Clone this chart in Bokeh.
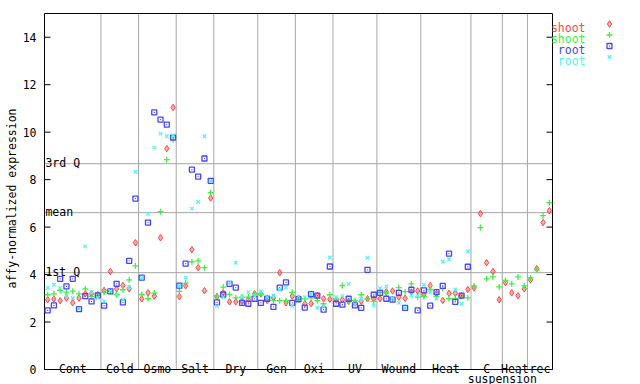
import numpy as np
from bokeh.plotting import figure
from bokeh.models import Range1d, FixedTicker
from bokeh.core.properties import value
from bokeh.embed import file_html
from bokeh.resources import INLINE

# ---------------- data ----------------
group_names = ["Cont", "Cold", "Osmo", "Salt", "Dry", "Gen", "Oxi", "UV",
               "Wound", "Heat", "C", "Heat", "rec"]
group_sizes = [9, 6, 6, 6, 7, 6, 6, 7, 7, 8, 5, 4, 4]
sub_label = "suspension"      # second line of the "C suspension" group label
sub_label_group = 10

nan = float("nan")

shoot_red = [2.94, 2.97, 2.90, 3.01, 2.81, 3.01, 3.19, 3.19, 3.15,
             3.33, 4.13, 3.40, 3.54, 3.40, 5.34,
             2.98, 3.23, 3.09, 5.55, 9.31, 11.04,
             3.07, 3.53, 5.05, 4.29, 3.32, 7.23,
             3.07, 3.23, 2.85, 2.85, 2.87, 2.95, 3.19,
             3.19, 2.91, 3.02, 4.08, 2.81, 3.09,
             3.00, 2.77, 2.78, 3.11, 2.98, 2.96,
             2.94, 2.94, 2.87, 2.80, 2.87, 2.98, 2.98,
             2.98, 3.27, 3.31, 3.05, 3.00, 3.27, 3.31,
             3.15, 3.54, 3.20, 2.91, 3.21, 3.21, 3.11, 3.37,
             3.44, 6.57, 4.50, 4.13, 2.94,
             3.66, 3.23, 3.11, 3.40,
             3.78, 4.25, 6.19, 6.69]
shoot_green = [3.15, 3.19, 3.33, 3.26, 3.30, 3.19, 3.40, 3.08, 3.19,
               3.26, 3.29, 3.15, 3.36, 3.78, 4.37,
               3.16, 2.98, 3.22, 6.65, 8.84, 9.69,
               3.29, 3.64, 4.54, 4.58, 4.29, 7.45,
               3.10, 3.47, 3.16, 3.02, 3.05, 3.05, 3.19,
               3.15, 3.02, 2.90, 2.90, 2.90, 3.25,
               2.98, 2.98, 3.02, 2.90, 2.77, 3.15,
               2.98, 3.54, 2.87, 2.91, 3.15, 2.97, 2.87,
               3.25, 3.23, 2.95, 3.45, 3.28, 3.61, 3.05,
               3.07, 3.37, 3.07, 3.41, 2.98, 2.98, 3.11, 3.02,
               3.52, 5.98, 3.82, 3.90, 3.48,
               3.75, 3.61, 3.90, 3.52,
               3.86, 4.20, 6.48, 7.03]
root_blue = [2.49, 2.70, 3.82, 3.50, 3.82, 2.54, 3.09, 2.87, 3.12,
             2.69, 3.29, 3.61, 2.83, 4.58, 7.20,
             3.87, 6.19, 10.83, 10.53, 10.32, 9.77,
             3.53, 4.46, 8.42, 8.13, 8.89, 7.95,
             2.83, 3.16, 3.61, 3.45, 2.81, 2.77, 2.98,
             2.81, 2.98, 2.64, 3.45, 3.67, 2.81,
             2.96, 2.61, 3.18, 3.11, 2.52, 4.34,
             2.77, 2.73, 2.98, 2.70, 2.60, 4.20, 3.15,
             3.23, 2.98, 2.94, 3.23, 2.60, 3.36, 2.49,
             3.33, 2.69, 3.26, 3.52, 4.88, 2.85, 3.11, 4.33,
             nan, nan, nan, nan, nan,
             nan, nan, nan, nan,
             nan, nan, nan, nan]
root_cyan = [3.44, 3.57, 3.44, 3.12, 3.01, 2.56, 5.19, 3.26, 3.01,
             2.88, 3.30, 3.16, 2.94, 3.47, 8.33,
             3.87, 6.57, 9.35, 9.94, 9.83, 9.87,
             3.53, 3.87, 6.78, 7.07, 9.83, 7.95,
             2.67, 3.05, 3.66, 4.50, 3.05, 3.26, 3.10,
             3.29, 3.05, 3.12, 3.36, 3.45, 2.67,
             3.08, 3.05, 3.19, 2.60, 2.66, 4.72,
             3.05, 3.10, 3.61, 2.74, 2.97, 4.71, 2.70,
             3.43, 3.50, 3.00, 2.81, 2.60, 3.12, 3.10,
             3.57, 3.24, 2.98, 4.55, 4.64, 3.37, 2.77, 4.98,
             nan, nan, nan, nan, nan,
             nan, nan, nan, nan,
             nan, nan, nan, nan]

quartile_names = ["1st Q", "mean", "3rd Q"]
quartile_values = [4.08, 6.61, 8.67]
y_ticks = [0, 2, 4, 6, 8, 10, 12, 14]
y_title = "affy-normalized expression"
legend_labels = ["shoot", "shoot", "root", "root"]

# ---------------- layout constants ----------------
RED, GREEN, BLUE, CYAN = "#ff4646", "#44ee44", "#4444ff", "#55f2f2"
GRID = "#a6a6a6"
FONT = "DejaVu Sans Mono"
FS = "11.5px"

W, H = 640, 384
LEFT, TOP = 43, 12
n = len(shoot_red)
kx = 508.0 / n
ky = 356.0 / 15.0
x_start = -1.0 / kx
x_end = x_start + (W - LEFT) / kx
y_end = 15 + 1.0 / ky
y_start = y_end - (H - TOP) / ky

p = figure(width=W, height=H, output_backend="svg", toolbar_location=None,
           x_range=Range1d(x_start, x_end), y_range=Range1d(y_start, y_end),
           x_axis_location=None, y_axis_location="left",
           min_border_left=LEFT, min_border_right=0, min_border_top=TOP,
           min_border_bottom=0, outline_line_color=None)
p.grid.visible = False
ax = p.yaxis[0]
ax.ticker = FixedTicker(ticks=y_ticks)
ax.axis_line_color = None
ax.major_tick_line_color = None
ax.minor_tick_line_color = None
ax.major_tick_out = 0
ax.major_tick_in = 0
ax.major_label_standoff = 7
ax.major_label_text_font = FONT
ax.major_label_text_font_size = FS
ax.major_label_text_color = "black"
ax.axis_label = y_title
ax.axis_label_standoff = 1
ax.axis_label_text_font = FONT
ax.axis_label_text_font_size = FS
ax.axis_label_text_font_style = "normal"
ax.axis_label_text_color = "black"

xs = np.arange(n) + 0.5
bounds = np.cumsum(group_sizes)
starts = bounds - np.array(group_sizes)
centers = (starts + bounds) / 2.0
x_max = float(bounds[-1])

# separators and quartile lines
sep = bounds[:-1]
p.segment(x0=sep, y0=0, x1=sep, y1=15, line_color=GRID, line_width=1)
p.segment(x0=0, y0=quartile_values, x1=x_max, y1=quartile_values,
          line_color=GRID, line_width=1)

# box
p.segment(x0=[0, 0, 0, x_max], y0=[0, 15, 0, 0], x1=[x_max, x_max, 0, x_max],
          y1=[0, 15, 15, 15], line_color="black", line_width=1)
# ticks (inward, both sides)
tl = 6.0 / kx
p.segment(x0=0, y0=y_ticks, x1=tl, y1=y_ticks, line_color="black", line_width=1)
p.segment(x0=x_max - tl, y0=y_ticks, x1=x_max, y1=y_ticks, line_color="black", line_width=1)

# data
p.scatter(xs, shoot_red, marker="diamond", size=6.5, line_color=RED, fill_color=RED,
          fill_alpha=0.45, line_width=1)
p.scatter(xs, shoot_green, marker="cross", size=6, line_color=GREEN, line_width=1.3)
p.scatter(xs, root_blue, marker="square_dot", size=5, line_color=BLUE,
          fill_color=None, line_width=1.3)
p.scatter(xs, root_cyan, marker="x", size=5, line_color=CYAN, line_width=1.2)

# quartile labels
p.text(x=[0.15] * 3, y=quartile_values, text=quartile_names, text_font=value(FONT),
       text_font_size=FS, text_align="left", text_baseline="alphabetic",
       y_offset=-1, text_color="black")

# group labels
p.text(x=centers, y=[0] * len(centers), text=group_names, text_font=value(FONT),
       text_font_size=FS, text_align="center", text_baseline="alphabetic",
       y_offset=-1, text_color="black")
p.text(x=[float(bounds[sub_label_group])], y=[-9.0 / ky], text=[sub_label],
       text_font=value(FONT), text_font_size=FS, text_align="center",
       text_baseline="alphabetic", text_color="black")

# legend (text then marker, outside the box)
leg_colors = [RED, GREEN, BLUE, CYAN]
leg_text_x = (585 - 44) / kx
leg_mark_x = (609 - 44) / kx
leg_base = [(369 - b) / ky for b in (27, 38, 49, 60)]
leg_mid = [(369 - b) / ky for b in (23.5, 34.5, 45.5, 56.5)]
p.text(x=[leg_text_x] * 4, y=leg_base, text=legend_labels, text_color=leg_colors,
       text_font=value(FONT), text_font_size=FS, text_align="right",
       text_baseline="alphabetic")
p.scatter([leg_mark_x], [leg_mid[0]], marker="diamond", size=6.5, line_color=RED,
          fill_color=RED, fill_alpha=0.45, line_width=1)
p.scatter([leg_mark_x], [leg_mid[1]], marker="cross", size=6, line_color=GREEN, line_width=1.3)
p.scatter([leg_mark_x], [leg_mid[2]], marker="square_dot", size=5, line_color=BLUE,
          fill_color=None, line_width=1.3)
p.scatter([leg_mark_x], [leg_mid[3]], marker="x", size=5, line_color=CYAN, line_width=1.2)

open("out.html", "w").write(file_html(p, INLINE))
